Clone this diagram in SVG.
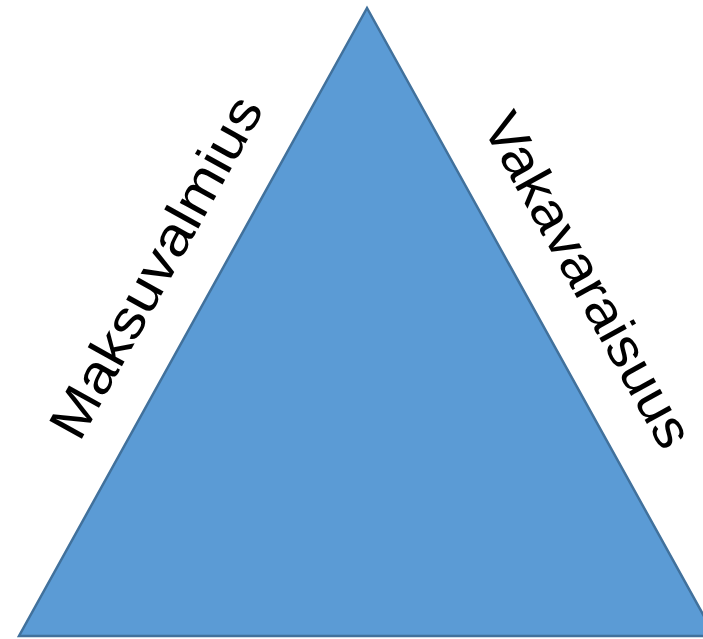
<svg xmlns="http://www.w3.org/2000/svg" width="703" height="639" viewBox="0 0 703 639">
<style>
.lbl{font-family:"Liberation Sans","Open Sans",sans-serif;font-size:54px;fill:#000;text-anchor:middle}
</style>
<rect width="703" height="639" fill="#fff"/>
<g id="triangle">
<polygon points="367,8 19,636 715,636" fill="#5B9BD5" stroke="#41719C" stroke-width="2.5" stroke-linejoin="miter"/>
</g>
<g id="label-left">
<text class="lbl" transform="translate(172,276) rotate(-61)" textLength="382" lengthAdjust="spacingAndGlyphs">Maksuvalmius</text>
</g>
<g id="label-right">
<text class="lbl" transform="translate(572,289) rotate(61)" textLength="374" lengthAdjust="spacingAndGlyphs">Vakavaraisuus</text>
</g>
</svg>
